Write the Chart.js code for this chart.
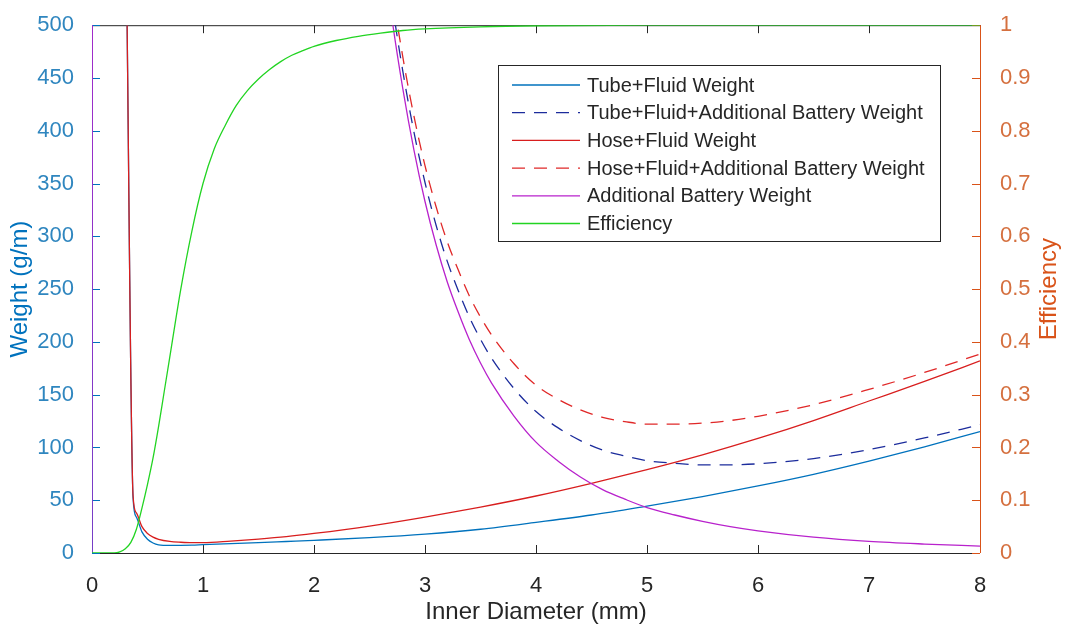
<!DOCTYPE html>
<html>
<head>
<meta charset="utf-8">
<script src="https://cdn.jsdelivr.net/npm/chart.js@4.4.1/dist/chart.umd.min.js"></script>
<style>
  html, body { margin: 0; padding: 0; background: #fff; }
  #wrap { width: 1066px; height: 629px; position: relative; }
</style>
</head>
<body>
<div id="wrap"><canvas id="chart"></canvas></div>
<script>
const FONT = "'Liberation Sans', Arial, sans-serif";

// inner diameter samples (mm) for each curve
const xFluid = [0.31, 0.37, 0.4, 0.45, 0.5, 0.55, 0.6, 0.7, 0.8, 0.9, 1.0, 1.25, 1.5, 1.75, 2.0, 2.5, 3.0, 3.5, 4.0, 4.5, 5.0, 5.5, 6.0, 6.5, 7.0, 7.5, 8.0];
const tubeFluid = [560, 52, 34, 20, 13, 9.5, 7.8, 7.2, 7.3, 7.5, 7.9, 8.8, 9.8, 10.9, 12, 14.5, 17.8, 22.5, 29, 36, 44.5, 53.5, 63.5, 74.5, 87, 100.5, 115];
const hoseFluid = [560, 54, 38, 25, 18.5, 15, 13, 11, 10.2, 9.8, 9.8, 11.3, 13.2, 15.5, 18.5, 25.5, 34, 43.5, 54, 66, 79, 93, 108.5, 125.5, 144, 162.5, 182];

const xBattery = [0, 0.01, 2.6, 2.7, 2.8, 2.9, 3.0, 3.1, 3.2, 3.3, 3.4, 3.5, 3.6, 3.8, 4.0, 4.2, 4.4, 4.6, 4.8, 5.0, 5.25, 5.5, 5.75, 6.0, 6.5, 7.0, 7.5, 8.0];
const battery = [0, 2000, 590, 508, 440, 382, 333, 292, 257, 228, 202, 180, 161, 130, 105, 87, 72, 60, 51, 43, 36, 30, 25, 21, 15, 11, 8.5, 6.6];

const xTotal = [2.6, 2.7, 2.8, 2.9, 3.0, 3.1, 3.2, 3.3, 3.4, 3.5, 3.6, 3.8, 4.0, 4.2, 4.4, 4.6, 4.8, 5.0, 5.25, 5.5, 5.75, 6.0, 6.5, 7.0, 7.5, 8.0];
const tubeTotal = [605, 524, 456.5, 399, 351, 310.5, 276.5, 248.5, 223.5, 202.5, 184.5, 156, 134, 118.5, 106.5, 97.5, 92, 87.5, 85, 83.5, 83.5, 84.5, 89.5, 98, 109, 121.5];
const hoseTotal = [620, 536.5, 470, 414, 367, 328, 295, 268, 243.5, 223.5, 206.5, 179.5, 159, 145.5, 135.5, 128.5, 124.5, 122, 122, 123, 125.5, 129.5, 140.5, 155, 171, 188.5];

const xEff = [0, 0.2, 0.25, 0.3, 0.35, 0.4, 0.45, 0.5, 0.55, 0.6, 0.65, 0.7, 0.8, 0.9, 1.0, 1.1, 1.2, 1.3, 1.4, 1.5, 1.6, 1.7, 1.8, 1.9, 2.0, 2.2, 2.4, 2.6, 2.8, 3.0, 3.5, 4.0, 5.0, 8.0];
const efficiency = [0, 0, 0.002, 0.008, 0.02, 0.045, 0.085, 0.13, 0.18, 0.24, 0.305, 0.37, 0.5, 0.61, 0.7, 0.765, 0.81, 0.848, 0.876, 0.898, 0.916, 0.931, 0.943, 0.952, 0.96, 0.971, 0.979, 0.985, 0.99, 0.993, 0.997, 0.999, 1, 1];

const xTicks = [0, 1, 2, 3, 4, 5, 6, 7, 8];
const weightTicks = [0, 50, 100, 150, 200, 250, 300, 350, 400, 450, 500];
const effTicks = [0, 0.1, 0.2, 0.3, 0.4, 0.5, 0.6, 0.7, 0.8, 0.9, 1];

const LEFT_COLOR = "#0072BD";
const RIGHT_COLOR = "#D95319";

function pts(xs, ys) {
  return xs.map((x, i) => ({ x: x, y: ys[i] }));
}

// axes box with inward tick marks
const framePlugin = {
  id: "frame",
  beforeDatasetsDraw(chart) {
    const { ctx, chartArea: a, scales } = chart;
    const len = 8;
    ctx.save();
    ctx.lineWidth = 1;

    ctx.strokeStyle = "#262626";
    ctx.beginPath();
    ctx.moveTo(a.left, a.bottom + 0.5); ctx.lineTo(a.right, a.bottom + 0.5);
    ctx.moveTo(a.left, a.top + 0.5); ctx.lineTo(a.right, a.top + 0.5);
    xTicks.forEach(v => {
      const px = Math.round(scales.x.getPixelForValue(v)) + 0.5;
      ctx.moveTo(px, a.bottom); ctx.lineTo(px, a.bottom - len);
      ctx.moveTo(px, a.top); ctx.lineTo(px, a.top + len);
    });
    ctx.stroke();

    ctx.strokeStyle = LEFT_COLOR;
    ctx.beginPath();
    ctx.moveTo(a.left + 0.5, a.top); ctx.lineTo(a.left + 0.5, a.bottom);
    weightTicks.forEach(v => {
      const py = Math.round(scales.y.getPixelForValue(v)) + 0.5;
      ctx.moveTo(a.left, py); ctx.lineTo(a.left + len, py);
    });
    ctx.stroke();

    ctx.strokeStyle = RIGHT_COLOR;
    ctx.beginPath();
    ctx.moveTo(a.right + 0.5, a.top); ctx.lineTo(a.right + 0.5, a.bottom);
    effTicks.forEach(v => {
      const py = Math.round(scales.y1.getPixelForValue(v)) + 0.5;
      ctx.moveTo(a.right, py); ctx.lineTo(a.right - len, py);
    });
    ctx.stroke();

    // right axis title reads bottom to top
    ctx.fillStyle = RIGHT_COLOR;
    ctx.font = "24px " + FONT;
    ctx.textAlign = "center";
    ctx.textBaseline = "middle";
    ctx.translate(1049, (a.top + a.bottom) / 2);
    ctx.rotate(-Math.PI / 2);
    ctx.fillText("Efficiency", 0, 0);
    ctx.restore();
  }
};

// boxed legend in the upper right of the plot
const legendPlugin = {
  id: "boxLegend",
  afterDatasetsDraw(chart) {
    const { ctx } = chart;
    const box = { x: 498, y: 65, w: 442, h: 176 };
    ctx.save();
    ctx.fillStyle = "#fff";
    ctx.fillRect(box.x, box.y, box.w, box.h);
    ctx.strokeStyle = "#262626";
    ctx.lineWidth = 1;
    ctx.strokeRect(box.x + 0.5, box.y + 0.5, box.w, box.h);
    ctx.font = "20px " + FONT;
    ctx.textBaseline = "middle";
    ctx.textAlign = "left";
    chart.data.datasets.forEach((ds, i) => {
      const y = box.y + 20 + i * 27.7;
      ctx.strokeStyle = ds.borderColor;
      ctx.lineWidth = ds.borderWidth;
      ctx.setLineDash(ds.borderDash || []);
      ctx.beginPath();
      ctx.moveTo(512, y);
      ctx.lineTo(580, y);
      ctx.stroke();
      ctx.setLineDash([]);
      ctx.fillStyle = "#262626";
      ctx.fillText(ds.label, 587, y + 1);
    });
    ctx.restore();
  }
};

const dash = [13, 9];

new Chart(document.getElementById("chart"), {
  type: "line",
  data: {
    datasets: [
      { label: "Tube+Fluid Weight", data: pts(xFluid, tubeFluid), borderColor: "#0072BD", borderWidth: 1.3, yAxisID: "y", order: 6 },
      { label: "Tube+Fluid+Additional Battery Weight", data: pts(xTotal, tubeTotal), borderColor: "#1c2c9c", borderWidth: 1.3, borderDash: dash, yAxisID: "y", order: 5 },
      { label: "Hose+Fluid Weight", data: pts(xFluid, hoseFluid), borderColor: "#d81e1e", borderWidth: 1.3, yAxisID: "y", order: 4 },
      { label: "Hose+Fluid+Additional Battery Weight", data: pts(xTotal, hoseTotal), borderColor: "#e02828", borderWidth: 1.3, borderDash: dash, yAxisID: "y", order: 3 },
      { label: "Additional Battery Weight", data: pts(xBattery, battery), borderColor: "#b822cc", borderWidth: 1.3, yAxisID: "y", order: 2 },
      { label: "Efficiency", data: pts(xEff, efficiency), borderColor: "#22d422", borderWidth: 1.3, yAxisID: "y1", order: 1 }
    ]
  },
  options: {
    responsive: true,
    maintainAspectRatio: false,
    animation: false,
    layout: { padding: { top: 18, left: 0, right: 0, bottom: 0 } },
    elements: {
      point: { radius: 0 },
      line: { cubicInterpolationMode: "monotone", fill: false }
    },
    plugins: {
      legend: { display: false },
      tooltip: { enabled: false }
    },
    scales: {
      x: {
        type: "linear",
        min: 0,
        max: 8,
        grid: { display: false },
        border: { display: false },
        ticks: { stepSize: 1, color: "#262626", font: { family: FONT, size: 22 }, padding: 12, maxRotation: 0 },
        title: { display: true, text: "Inner Diameter (mm)", color: "#262626", font: { family: FONT, size: 24 }, padding: { top: 4, bottom: 2 } },
        afterFit: s => { s.height = 76; }
      },
      y: {
        position: "left",
        min: 0,
        max: 500,
        grid: { display: false },
        border: { display: false },
        ticks: { stepSize: 50, color: "#2f86bf", font: { family: FONT, size: 22 }, padding: 10 },
        title: { display: true, text: "Weight (g/m)", color: LEFT_COLOR, font: { family: FONT, size: 24 }, padding: { top: 6, bottom: 0 } },
        afterFit: s => { s.width = 92; }
      },
      y1: {
        position: "right",
        min: 0,
        max: 1,
        grid: { display: false },
        border: { display: false },
        ticks: {
          stepSize: 0.1,
          color: "#d5703f",
          font: { family: FONT, size: 22 },
          padding: 12,
          callback: v => String(Math.round(v * 10) / 10)
        },
        afterFit: s => { s.width = 86; }
      }
    }
  },
  plugins: [framePlugin, legendPlugin]
});
</script>
</body>
</html>
